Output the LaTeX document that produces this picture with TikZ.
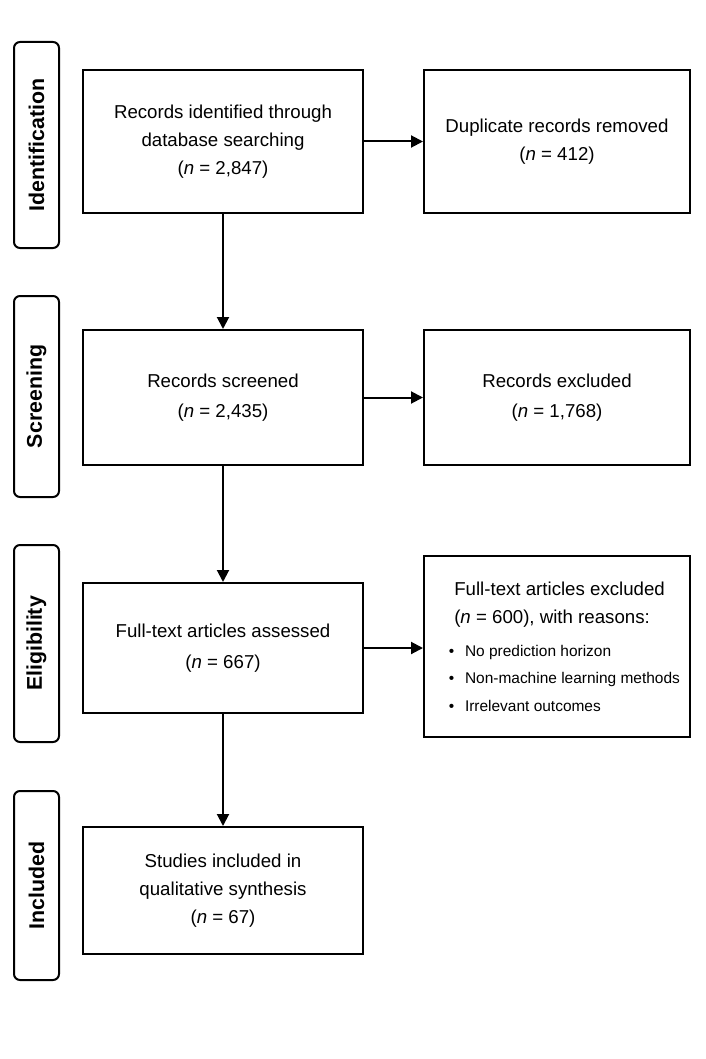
\documentclass[tikz,border=0pt]{standalone}
\usepackage{fontspec}
\setmainfont{Liberation Sans}
\usetikzlibrary{arrows.meta}
\begin{document}
\begin{tikzpicture}[x=0.75pt,y=-0.75pt,
  lab/.style={draw, line width=1.5pt, rounded corners=4.5pt, rotate=90,
    minimum height=45*0.75pt, inner sep=0pt, font=\fontsize{16}{18}\selectfont\bfseries},
  box/.style={draw, line width=1.5pt, minimum width=280*0.75pt, align=center,
    inner sep=0pt, font=\fontsize{14}{21}\selectfont},
  rbox/.style={box, minimum width=266*0.75pt},
  arr/.style={line width=1.5pt, -{Triangle[length=9pt,width=9pt]}}
]
\fill[white] (0,0) rectangle (706,1059);
\useasboundingbox (0,0) rectangle (706,1059);

% phase labels
\node[lab, minimum width=206*0.75pt] (lab1) at (36.5,145) {Identification};
\node[lab, minimum width=201*0.75pt] (lab2) at (36.5,396.5) {Screening};
\node[lab, minimum width=197*0.75pt] (lab3) at (36.5,643.5) {Eligibility};
\node[lab, minimum width=189*0.75pt] (lab4) at (36.5,885.5) {Included};

% main column
\node[box, minimum height=143*0.75pt] (b1) at (223,141.5)
  {Records identified through\\database searching\\(\textit{n} = 2,847)};
\node[box, minimum height=135*0.75pt] (b2) at (223,397.5)
  {Records screened\\[2pt](\textit{n} = 2,435)};
\node[box, minimum height=130*0.75pt] (b3) at (223,648)
  {Full-text articles assessed\\[2pt](\textit{n} = 667)};
\node[box, minimum height=127*0.75pt] (b4) at (223,890.5)
  {Studies included in\\qualitative synthesis\\(\textit{n} = 67)};

% right column
\node[rbox, minimum height=143*0.75pt] (r1) at (557,141.5)
  {Duplicate records removed\\(\textit{n} = 412)};
\node[rbox, minimum height=135*0.75pt] (r2) at (557,397.5)
  {Records excluded\\[2pt](\textit{n} = 1,768)};
\node[rbox, minimum height=181*0.75pt] (r3) at (557,646.5) {};
\node[anchor=north west, align=left, inner sep=0pt,
      font=\fontsize{14}{20.5}\selectfont] (r3t) at (454,582)
  {Full-text articles excluded\\(\textit{n} = 600), with reasons:\\[4.5pt]
   {\fontsize{11.6}{21}\selectfont\hspace*{-4pt}\textbullet\hspace{8pt}No prediction horizon}\\
   {\fontsize{11.6}{21}\selectfont\hspace*{-4pt}\textbullet\hspace{8pt}Non-machine learning methods}\\
   {\fontsize{11.6}{21}\selectfont\hspace*{-4pt}\textbullet\hspace{8pt}Irrelevant outcomes}};

% connectors
\draw[arr] (b1.south) -- (b2.north);
\draw[arr] (b2.south) -- (b3.north);
\draw[arr] (b3.south) -- (b4.north);
\draw[arr] (b1.east) -- (r1.west);
\draw[arr] (b2.east) -- (r2.west);
\draw[arr] (b3.east) -- (b3.east -| r3.west);
\end{tikzpicture}
\end{document}
